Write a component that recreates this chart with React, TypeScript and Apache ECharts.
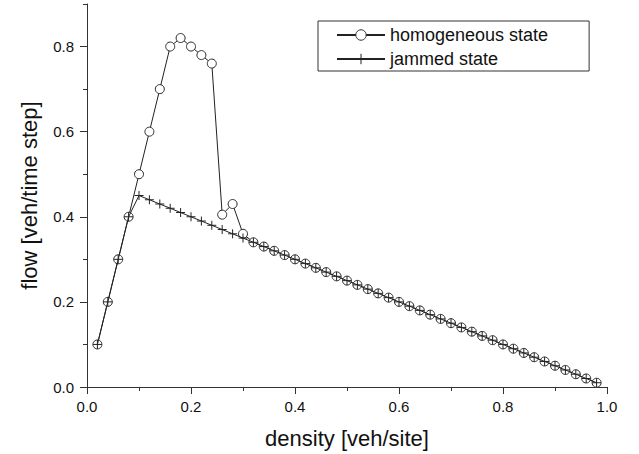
import React, { useEffect, useRef } from "react";
import * as echarts from "echarts";

const density = [
  0.02, 0.04, 0.06, 0.08, 0.1, 0.12, 0.14, 0.16, 0.18, 0.2,
  0.22, 0.24, 0.26, 0.28, 0.3, 0.32, 0.34, 0.36, 0.38, 0.4,
  0.42, 0.44, 0.46, 0.48, 0.5, 0.52, 0.54, 0.56, 0.58, 0.6,
  0.62, 0.64, 0.66, 0.68, 0.7, 0.72, 0.74, 0.76, 0.78, 0.8,
  0.82, 0.84, 0.86, 0.88, 0.9, 0.92, 0.94, 0.96, 0.98,
];

const homogeneous = [
  0.1, 0.2, 0.3, 0.4, 0.5, 0.6, 0.7, 0.8, 0.82, 0.8,
  0.78, 0.76, 0.405, 0.43, 0.36, 0.34, 0.33, 0.32, 0.31, 0.3,
  0.29, 0.28, 0.27, 0.26, 0.25, 0.24, 0.23, 0.22, 0.21, 0.2,
  0.19, 0.18, 0.17, 0.16, 0.15, 0.14, 0.13, 0.12, 0.11, 0.1,
  0.09, 0.08, 0.07, 0.06, 0.05, 0.04, 0.03, 0.02, 0.01,
];

const jammed = [
  0.1, 0.2, 0.3, 0.4, 0.45, 0.44, 0.43, 0.42, 0.41, 0.4,
  0.39, 0.38, 0.37, 0.36, 0.35, 0.34, 0.33, 0.32, 0.31, 0.3,
  0.29, 0.28, 0.27, 0.26, 0.25, 0.24, 0.23, 0.22, 0.21, 0.2,
  0.19, 0.18, 0.17, 0.16, 0.15, 0.14, 0.13, 0.12, 0.11, 0.1,
  0.09, 0.08, 0.07, 0.06, 0.05, 0.04, 0.03, 0.02, 0.01,
];

const xMajorTicks = [0, 0.2, 0.4, 0.6, 0.8, 1.0];
const yMajorTicks = [0, 0.2, 0.4, 0.6, 0.8];

const FONT = "Liberation Sans, Arial, sans-serif";
const INK = "#222";
const MARK = "#2a2a2a";
const AXIS = "#333";

const labelFmt = (v: number) => {
  const k = Math.round(v * 10);
  return k % 2 === 0 ? (k / 10).toFixed(1) : "";
};

export default function App() {
  const ref = useRef<HTMLDivElement>(null);
  useEffect(() => {
    document.body.style.margin = "0";
    if (!ref.current) return;
    const chart = echarts.init(ref.current, null, { renderer: "svg" });
    const baseX = {
      type: "value",
      min: 0,
      max: 1,
      interval: 0.1,
      splitLine: { show: false },
    };
    const baseY = {
      type: "value",
      min: 0,
      max: 0.9,
      interval: 0.1,
      splitLine: { show: false },
    };
    chart.setOption({
      animation: false,
      backgroundColor: "#fff",
      textStyle: { fontFamily: FONT },
      grid: { left: 87, right: 32, top: 4, bottom: 67 },
      legend: {
        data: ["homogeneous state", "jammed state"],
        orient: "vertical",
        left: 318,
        top: 21,
        itemWidth: 48,
        itemHeight: 13,
        itemGap: 6,
        padding: [5, 41, 3, 18],
        borderColor: AXIS,
        borderWidth: 1,
        itemStyle: { borderWidth: 1 },
        textStyle: { fontSize: 18, color: "#111", fontFamily: FONT },
      },
      xAxis: [
        {
          ...baseX,
          name: "density [veh/site]",
          nameLocation: "middle",
          nameGap: 40,
          nameTextStyle: { fontSize: 22, color: "#111", fontFamily: FONT },
          axisLine: { lineStyle: { color: AXIS, width: 1 } },
          axisTick: { length: 4, lineStyle: { color: AXIS } },
          axisLabel: {
            formatter: labelFmt,
            fontSize: 15,
            color: "#111",
            margin: 12,
            fontFamily: FONT,
          },
        },
        {
          ...baseX,
          position: "bottom",
          axisLine: { show: false },
          axisLabel: { show: false },
          axisTick: {
            length: 7,
            customValues: xMajorTicks,
            lineStyle: { color: AXIS },
          },
        },
      ],
      yAxis: [
        {
          ...baseY,
          name: "flow [veh/time step]",
          nameLocation: "middle",
          nameGap: 47,
          nameTextStyle: { fontSize: 22, color: "#111", fontFamily: FONT },
          axisLine: { lineStyle: { color: AXIS, width: 1 } },
          axisTick: { length: 4, lineStyle: { color: AXIS } },
          axisLabel: {
            formatter: labelFmt,
            fontSize: 15,
            color: "#111",
            margin: 13,
            fontFamily: FONT,
          },
        },
        {
          ...baseY,
          position: "left",
          axisLine: { show: false },
          axisLabel: { show: false },
          axisTick: {
            length: 7,
            customValues: yMajorTicks,
            lineStyle: { color: AXIS },
          },
        },
      ],
      series: [
        {
          name: "homogeneous state",
          type: "line",
          xAxisIndex: 0,
          yAxisIndex: 0,
          data: density.map((d, i) => [d, homogeneous[i]]),
          symbol: "circle",
          symbolSize: 9,
          showAllSymbol: true,
          lineStyle: { color: INK, width: 1 },
          itemStyle: { color: "#fff", borderColor: MARK, borderWidth: 1 },
          z: 2,
        },
        {
          name: "jammed state",
          type: "line",
          xAxisIndex: 0,
          yAxisIndex: 0,
          data: density.map((d, i) => [d, jammed[i]]),
          symbol: "path://M4,0L4,8M0,4L8,4",
          symbolSize: 9,
          showAllSymbol: true,
          lineStyle: { color: INK, width: 1 },
          itemStyle: { color: INK, borderColor: INK, borderWidth: 1 },
          z: 3,
        },
      ],
    });
    return () => chart.dispose();
  }, []);
  return <div ref={ref} style={{ width: 639, height: 454 }} />;
}
